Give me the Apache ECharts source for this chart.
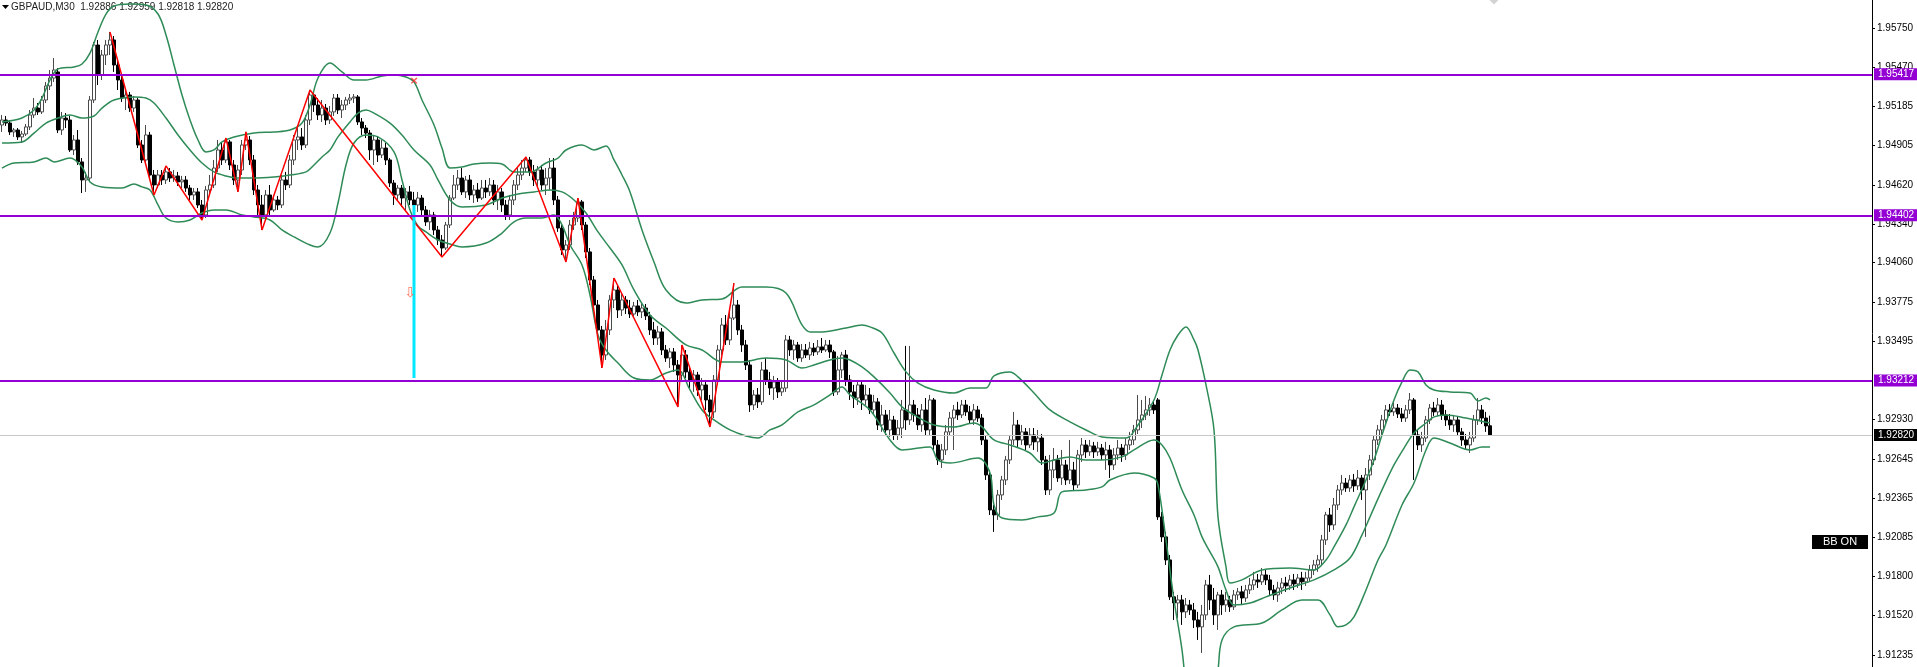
<!DOCTYPE html>
<html>
<head>
<meta charset="utf-8">
<script src="https://cdn.jsdelivr.net/npm/echarts@6/dist/echarts.min.js"></script>
<style>
html, body { margin: 0; padding: 0; background: #fff; }
#chart { width: 1917px; height: 667px; }
</style>
</head>
<body>
<div id="chart"></div>
<script>
// GBPAUD M30
const symbolName = 'GBPAUD,M30';
const slotCount = 468; // bar slots across the visible chart (incl. right shift)

// [open, close, low, high]
const candles = [
[1.95052,1.95088,1.95002,1.95124],[1.95088,1.95066,1.95045,1.95117],[1.95066,1.95002,1.94980,1.95088],[1.95002,1.95016,1.94966,1.95030],
[1.95016,1.94966,1.94944,1.95030],[1.94966,1.94987,1.94922,1.95009],[1.94987,1.95038,1.94973,1.95059],[1.95038,1.95124,1.95016,1.95160],
[1.95124,1.95174,1.95102,1.95246],[1.95174,1.95146,1.95124,1.95210],[1.95146,1.95232,1.95131,1.95261],[1.95232,1.95333,1.95210,1.95362],
[1.95333,1.95390,1.95304,1.95448],[1.95390,1.95448,1.95362,1.95534],[1.95434,1.95016,1.94994,1.95462],[1.95016,1.95102,1.94980,1.95146],
[1.95102,1.95088,1.95030,1.95138],[1.95088,1.94872,1.94858,1.95117],[1.94872,1.94944,1.94836,1.94980],[1.94944,1.94786,1.94764,1.95016],
[1.94786,1.94656,1.94562,1.94814],[1.94656,1.94670,1.94570,1.94714],[1.94670,1.95232,1.94642,1.95261],[1.95232,1.95628,1.95210,1.95650],
[1.95628,1.95412,1.95340,1.95664],[1.95412,1.95556,1.95376,1.95592],[1.95556,1.95628,1.95484,1.95664],[1.95628,1.95664,1.95556,1.95722],
[1.95664,1.95484,1.95434,1.95693],[1.95484,1.95376,1.95304,1.95520],[1.95376,1.95246,1.95218,1.95405],[1.95246,1.95268,1.95160,1.95304],
[1.95268,1.95174,1.95146,1.95290],[1.95174,1.95232,1.95146,1.95261],[1.95232,1.94908,1.94886,1.95246],[1.94908,1.94800,1.94778,1.94944],
[1.94800,1.94980,1.94764,1.95052],[1.94980,1.94692,1.94656,1.95002],[1.94692,1.94620,1.94548,1.94728],[1.94620,1.94692,1.94598,1.94728],
[1.94692,1.94656,1.94620,1.94728],[1.94656,1.94714,1.94627,1.94757],[1.94714,1.94670,1.94642,1.94742],[1.94670,1.94685,1.94642,1.94728],
[1.94685,1.94642,1.94613,1.94714],[1.94642,1.94656,1.94598,1.94685],[1.94656,1.94598,1.94570,1.94685],[1.94598,1.94548,1.94512,1.94620],
[1.94548,1.94570,1.94512,1.94598],[1.94570,1.94476,1.94454,1.94598],[1.94476,1.94404,1.94368,1.94512],[1.94404,1.94584,1.94382,1.94613],
[1.94584,1.94620,1.94548,1.94692],[1.94620,1.94742,1.94598,1.94800],[1.94742,1.94872,1.94714,1.94944],[1.94872,1.94800,1.94764,1.94930],
[1.94800,1.94930,1.94778,1.94958],[1.94930,1.94764,1.94728,1.94944],[1.94764,1.94656,1.94620,1.94800],[1.94656,1.94728,1.94570,1.94764],
[1.94728,1.94908,1.94692,1.94944],[1.94908,1.94944,1.94872,1.95002],[1.94944,1.94800,1.94764,1.94973],[1.94800,1.94584,1.94548,1.94836],
[1.94584,1.94476,1.94404,1.94620],[1.94476,1.94404,1.94296,1.94548],[1.94404,1.94548,1.94368,1.94584],[1.94548,1.94440,1.94404,1.94620],
[1.94440,1.94512,1.94426,1.94548],[1.94512,1.94476,1.94440,1.94541],[1.94476,1.94656,1.94454,1.94692],[1.94656,1.94620,1.94584,1.94714],
[1.94620,1.94800,1.94598,1.94836],[1.94800,1.94944,1.94764,1.94980],[1.94944,1.94966,1.94872,1.95052],[1.94966,1.94908,1.94872,1.95030],
[1.94908,1.95088,1.94886,1.95124],[1.95088,1.95268,1.95052,1.95304],[1.95268,1.95196,1.95146,1.95290],[1.95196,1.95124,1.95088,1.95246],
[1.95124,1.95174,1.95074,1.95232],[1.95174,1.95088,1.95052,1.95203],[1.95088,1.95146,1.95059,1.95189],[1.95146,1.95246,1.95117,1.95275],
[1.95246,1.95160,1.95131,1.95275],[1.95160,1.95196,1.95102,1.95232],[1.95196,1.95232,1.95160,1.95254],[1.95232,1.95246,1.95203,1.95275],
[1.95246,1.95254,1.95210,1.95275],[1.95254,1.95074,1.95052,1.95268],[1.95074,1.95030,1.94980,1.95102],[1.95030,1.94994,1.94958,1.95052],
[1.94994,1.94872,1.94800,1.95016],[1.94872,1.94944,1.94764,1.94980],[1.94944,1.94836,1.94786,1.94966],[1.94836,1.94886,1.94814,1.94944],
[1.94886,1.94800,1.94764,1.94922],[1.94800,1.94634,1.94606,1.94814],[1.94634,1.94548,1.94476,1.94656],[1.94548,1.94598,1.94512,1.94620],
[1.94598,1.94526,1.94462,1.94620],[1.94526,1.94570,1.94440,1.94598],[1.94570,1.94512,1.94476,1.94613],[1.94512,1.94476,1.94404,1.94570],
[1.94476,1.94526,1.94426,1.94570],[1.94526,1.94440,1.94404,1.94548],[1.94440,1.94354,1.94325,1.94469],[1.94354,1.94404,1.94296,1.94440],
[1.94404,1.94296,1.94260,1.94426],[1.94296,1.94224,1.94188,1.94325],[1.94224,1.94166,1.94102,1.94260],[1.94166,1.94332,1.94152,1.94354],
[1.94332,1.94526,1.94310,1.94548],[1.94526,1.94620,1.94512,1.94692],[1.94620,1.94670,1.94584,1.94728],[1.94670,1.94570,1.94548,1.94742],
[1.94570,1.94656,1.94526,1.94685],[1.94656,1.94548,1.94512,1.94692],[1.94548,1.94584,1.94490,1.94620],[1.94584,1.94526,1.94498,1.94634],
[1.94526,1.94598,1.94512,1.94656],[1.94598,1.94570,1.94526,1.94656],[1.94570,1.94620,1.94541,1.94670],[1.94620,1.94512,1.94476,1.94656],
[1.94512,1.94570,1.94440,1.94620],[1.94570,1.94476,1.94426,1.94598],[1.94476,1.94404,1.94368,1.94512],[1.94404,1.94512,1.94368,1.94548],
[1.94512,1.94620,1.94476,1.94656],[1.94620,1.94692,1.94584,1.94742],[1.94692,1.94742,1.94656,1.94800],[1.94742,1.94800,1.94714,1.94822],
[1.94800,1.94714,1.94685,1.94822],[1.94714,1.94656,1.94613,1.94764],[1.94656,1.94728,1.94598,1.94757],[1.94728,1.94620,1.94584,1.94764],
[1.94620,1.94670,1.94548,1.94742],[1.94670,1.94742,1.94584,1.94814],[1.94742,1.94512,1.94476,1.94814],[1.94512,1.94310,1.94282,1.94541],
[1.94310,1.94152,1.94116,1.94339],[1.94152,1.94188,1.94066,1.94224],[1.94188,1.94332,1.94152,1.94368],[1.94332,1.94382,1.94296,1.94426],
[1.94382,1.94498,1.94354,1.94526],[1.94498,1.94332,1.94296,1.94512],[1.94332,1.94138,1.94094,1.94354],[1.94138,1.93936,1.93900,1.94166],
[1.93936,1.93756,1.93720,1.93965],[1.93756,1.93576,1.93540,1.93792],[1.93576,1.93396,1.93302,1.93605],[1.93396,1.93576,1.93360,1.93648],
[1.93576,1.93792,1.93540,1.93828],[1.93792,1.93864,1.93734,1.93950],[1.93864,1.93720,1.93662,1.93893],[1.93720,1.93792,1.93677,1.93835],
[1.93792,1.93734,1.93691,1.93821],[1.93734,1.93691,1.93662,1.93792],[1.93691,1.93749,1.93662,1.93778],[1.93749,1.93706,1.93677,1.93792],
[1.93706,1.93734,1.93662,1.93770],[1.93734,1.93677,1.93648,1.93763],[1.93677,1.93576,1.93540,1.93706],[1.93576,1.93518,1.93468,1.93634],
[1.93518,1.93562,1.93468,1.93605],[1.93562,1.93432,1.93396,1.93590],[1.93432,1.93374,1.93346,1.93468],[1.93374,1.93418,1.93302,1.93446],
[1.93418,1.93324,1.93274,1.93446],[1.93324,1.93252,1.93022,1.93360],[1.93252,1.93396,1.93216,1.93468],[1.93396,1.93274,1.93230,1.93432],
[1.93274,1.93216,1.93158,1.93317],[1.93216,1.93252,1.93130,1.93288],[1.93252,1.93144,1.93101,1.93274],[1.93144,1.93180,1.93072,1.93230],
[1.93180,1.93072,1.93000,1.93216],[1.93072,1.92986,1.92878,1.93108],[1.92986,1.93216,1.92942,1.93252],[1.93216,1.93432,1.93180,1.93468],
[1.93432,1.93612,1.93396,1.93662],[1.93612,1.93504,1.93468,1.93684],[1.93504,1.93662,1.93468,1.93720],[1.93662,1.93756,1.93648,1.93914],
[1.93756,1.93576,1.93540,1.93792],[1.93576,1.93468,1.93418,1.93612],[1.93468,1.93324,1.93288,1.93504],[1.93324,1.93036,1.92986,1.93360],
[1.93036,1.93108,1.93000,1.93144],[1.93108,1.93058,1.93014,1.93158],[1.93058,1.93288,1.93036,1.93346],[1.93288,1.93216,1.93180,1.93374],
[1.93216,1.93158,1.93108,1.93274],[1.93158,1.93202,1.93072,1.93245],[1.93202,1.93130,1.93086,1.93230],[1.93130,1.93158,1.93101,1.93216],
[1.93158,1.93504,1.93130,1.93540],[1.93504,1.93432,1.93389,1.93533],[1.93432,1.93468,1.93360,1.93504],[1.93468,1.93374,1.93346,1.93490],
[1.93374,1.93432,1.93346,1.93475],[1.93432,1.93396,1.93374,1.93475],[1.93396,1.93446,1.93360,1.93490],[1.93446,1.93418,1.93389,1.93482],
[1.93418,1.93454,1.93396,1.93504],[1.93454,1.93432,1.93410,1.93518],[1.93432,1.93468,1.93418,1.93504],[1.93468,1.93418,1.93374,1.93504],
[1.93418,1.93130,1.93101,1.93432],[1.93130,1.93288,1.93108,1.93389],[1.93288,1.93396,1.93230,1.93418],[1.93396,1.93216,1.93173,1.93432],
[1.93216,1.93130,1.93072,1.93252],[1.93130,1.93086,1.93014,1.93180],[1.93086,1.93180,1.93036,1.93216],[1.93180,1.93072,1.93000,1.93202],
[1.93072,1.93108,1.93036,1.93180],[1.93108,1.93000,1.92971,1.93158],[1.93000,1.93058,1.92964,1.93108],[1.93058,1.92892,1.92856,1.93086],
[1.92892,1.92964,1.92842,1.93036],[1.92964,1.92856,1.92820,1.93000],[1.92856,1.92928,1.92806,1.93000],[1.92928,1.92820,1.92784,1.92957],
[1.92820,1.92870,1.92784,1.92928],[1.92870,1.93000,1.92798,1.93072],[1.93000,1.92928,1.92856,1.93461],[1.92928,1.93036,1.92892,1.93461],
[1.93036,1.92964,1.92914,1.93072],[1.92964,1.92892,1.92856,1.93014],[1.92892,1.93000,1.92842,1.93043],[1.93000,1.92856,1.92820,1.93086],
[1.92856,1.93072,1.92820,1.93108],[1.93072,1.92748,1.92712,1.93086],[1.92748,1.92640,1.92604,1.92784],[1.92640,1.92712,1.92582,1.92755],
[1.92712,1.92842,1.92676,1.92892],[1.92842,1.92942,1.92813,1.92986],[1.92942,1.93000,1.92712,1.93036],[1.93000,1.92964,1.92928,1.93058],
[1.92964,1.93036,1.92942,1.93072],[1.93036,1.92986,1.92957,1.93072],[1.92986,1.92928,1.92899,1.93029],[1.92928,1.93000,1.92892,1.93043],
[1.93000,1.92942,1.92914,1.93029],[1.92942,1.92784,1.92748,1.92971],[1.92784,1.92532,1.92496,1.92813],[1.92532,1.92280,1.92244,1.92568],
[1.92280,1.92244,1.92122,1.92316],[1.92244,1.92388,1.92208,1.92424],[1.92388,1.92496,1.92352,1.92525],[1.92496,1.92640,1.92460,1.92669],
[1.92640,1.92784,1.92611,1.92813],[1.92784,1.92892,1.92748,1.92986],[1.92892,1.92784,1.92726,1.92928],[1.92784,1.92842,1.92748,1.92892],
[1.92842,1.92748,1.92712,1.92870],[1.92748,1.92820,1.92726,1.92870],[1.92820,1.92770,1.92712,1.92870],[1.92770,1.92798,1.92698,1.92856],
[1.92798,1.92640,1.92604,1.92827],[1.92640,1.92424,1.92388,1.92669],[1.92424,1.92568,1.92388,1.92676],[1.92568,1.92640,1.92510,1.92726],
[1.92640,1.92510,1.92482,1.92676],[1.92510,1.92604,1.92460,1.92712],[1.92604,1.92496,1.92460,1.92640],[1.92496,1.92568,1.92467,1.92784],
[1.92568,1.92460,1.92424,1.92626],[1.92460,1.92676,1.92438,1.92712],[1.92676,1.92748,1.92626,1.92798],[1.92748,1.92698,1.92654,1.92784],
[1.92698,1.92741,1.92669,1.92784],[1.92741,1.92698,1.92654,1.92770],[1.92698,1.92726,1.92669,1.92770],[1.92726,1.92676,1.92640,1.92755],
[1.92676,1.92712,1.92568,1.92770],[1.92712,1.92604,1.92510,1.92748],[1.92604,1.92676,1.92568,1.92726],[1.92676,1.92726,1.92640,1.92784],
[1.92726,1.92676,1.92626,1.92755],[1.92676,1.92748,1.92640,1.92798],[1.92748,1.92784,1.92712,1.92842],[1.92784,1.92856,1.92748,1.92892],
[1.92856,1.92928,1.92827,1.93108],[1.92928,1.92964,1.92870,1.93072],[1.92964,1.93000,1.92928,1.93101],[1.93000,1.93036,1.92957,1.93086],
[1.93036,1.93000,1.92971,1.93072],[1.93072,1.92230,1.92208,1.93086],[1.92230,1.92086,1.92050,1.92266],[1.92086,1.91920,1.91884,1.92122],
[1.91920,1.91654,1.91632,1.91956],[1.91654,1.91610,1.91488,1.91690],[1.91610,1.91632,1.91502,1.91668],[1.91632,1.91546,1.91452,1.91668],
[1.91546,1.91596,1.91502,1.91646],[1.91596,1.91560,1.91524,1.91632],[1.91560,1.91488,1.91430,1.91610],[1.91488,1.91438,1.91344,1.91546],
[1.91438,1.91524,1.91250,1.91596],[1.91524,1.91740,1.91488,1.91776],[1.91740,1.91632,1.91560,1.91812],[1.91632,1.91524,1.91452,1.91718],
[1.91524,1.91668,1.91416,1.91690],[1.91668,1.91596,1.91524,1.91704],[1.91596,1.91632,1.91546,1.91690],[1.91632,1.91582,1.91546,1.91661],
[1.91582,1.91668,1.91560,1.91704],[1.91668,1.91690,1.91632,1.91718],[1.91690,1.91646,1.91603,1.91733],[1.91646,1.91704,1.91618,1.91740],
[1.91704,1.91740,1.91675,1.91790],[1.91740,1.91776,1.91704,1.91834],[1.91776,1.91762,1.91718,1.91819],[1.91762,1.91812,1.91740,1.91862],
[1.91812,1.91776,1.91740,1.91848],[1.91776,1.91704,1.91668,1.91812],[1.91704,1.91668,1.91632,1.91740],[1.91668,1.91718,1.91618,1.91762],
[1.91718,1.91754,1.91675,1.91790],[1.91754,1.91733,1.91690,1.91798],[1.91733,1.91776,1.91704,1.91812],[1.91776,1.91747,1.91704,1.91819],
[1.91747,1.91790,1.91718,1.91819],[1.91790,1.91762,1.91704,1.91834],[1.91762,1.91790,1.91733,1.91834],[1.91790,1.91848,1.91762,1.91884],
[1.91848,1.91884,1.91812,1.91920],[1.91884,1.91920,1.91834,1.91956],[1.91920,1.92064,1.91884,1.92100],[1.92064,1.92244,1.92028,1.92266],
[1.92244,1.92172,1.92122,1.92294],[1.92172,1.92316,1.92136,1.92366],[1.92316,1.92424,1.92280,1.92460],[1.92424,1.92474,1.92388,1.92532],
[1.92474,1.92438,1.92410,1.92510],[1.92438,1.92496,1.92410,1.92532],[1.92496,1.92453,1.92410,1.92539],[1.92453,1.92510,1.92424,1.92568],
[1.92510,1.92424,1.92352,1.92532],[1.92424,1.92532,1.92086,1.92582],[1.92532,1.92640,1.92496,1.92676],[1.92640,1.92784,1.92604,1.92813],
[1.92784,1.92856,1.92748,1.92892],[1.92856,1.92928,1.92820,1.92964],[1.92928,1.93000,1.92899,1.93036],[1.93000,1.92986,1.92957,1.93043],
[1.92986,1.93014,1.92957,1.93058],[1.93014,1.92971,1.92942,1.93043],[1.92971,1.92942,1.92914,1.93014],[1.92942,1.93000,1.92914,1.93036],
[1.93000,1.93072,1.92971,1.93122],[1.93072,1.92820,1.92496,1.93086],[1.92820,1.92748,1.92712,1.92856],[1.92748,1.92798,1.92698,1.92842],
[1.92798,1.92928,1.92770,1.92957],[1.92928,1.93014,1.92899,1.93043],[1.93014,1.92986,1.92957,1.93058],[1.92986,1.93036,1.92957,1.93086],
[1.93036,1.92964,1.92928,1.93072],[1.92964,1.92928,1.92885,1.93000],[1.92928,1.92892,1.92856,1.92971],[1.92892,1.92928,1.92842,1.92964],
[1.92928,1.92842,1.92813,1.92957],[1.92842,1.92784,1.92741,1.92870],[1.92784,1.92748,1.92712,1.92827],[1.92748,1.92798,1.92690,1.92842],
[1.92798,1.92928,1.92770,1.92964],[1.92928,1.93000,1.92892,1.93086],[1.93000,1.92942,1.92899,1.93036],[1.92942,1.92885,1.92842,1.92986],
[1.92886,1.92820,1.92818,1.92959]
];

// Bollinger bands, [bar index, price]
const bbUpper = [[0,1.95074],[5,1.95102],[8,1.95160],[10,1.95246],[12,1.95376],[14,1.95455],[18,1.95470],[20,1.95491],[22,1.95570],[24,1.95722],[26,1.95851],[28,1.95909],[32,1.95923],[36,1.95916],[39,1.95851],[41,1.95700],[43,1.95484],[45,1.95268],[47,1.95088],[49,1.94944],[51,1.94858],[53,1.94872],[55,1.94930],[58,1.94966],[63,1.94994],[68,1.95002],[72,1.95016],[75,1.95066],[77,1.95196],[79,1.95390],[82,1.95498],[85,1.95434],[88,1.95376],[91,1.95376],[95,1.95405],[98,1.95412],[101,1.95398],[103,1.95362],[105,1.95232],[108,1.95052],[110,1.94886],[112,1.94742],[115,1.94750],[118,1.94771],[122,1.94778],[125,1.94771],[128,1.94714],[132,1.94714],[136,1.94778],[139,1.94814],[141,1.94872],[145,1.94908],[148,1.94872],[151,1.94901],[153,1.94800],[155,1.94692],[157,1.94570],[160,1.94296],[163,1.94066],[166,1.93864],[171,1.93770],[175,1.93792],[180,1.93799],[185,1.93886],[191,1.93886],[196,1.93842],[200,1.93612],[202,1.93562],[205,1.93562],[211,1.93590],[215,1.93612],[217,1.93598],[220,1.93554],[223,1.93410],[226,1.93274],[229,1.93194],[233,1.93144],[238,1.93122],[242,1.93158],[246,1.93158],[248,1.93245],[252,1.93274],[254,1.93238],[258,1.93122],[262,1.93000],[267,1.92914],[271,1.92856],[275,1.92806],[281,1.92798],[284,1.92892],[288,1.93072],[290,1.93252],[292,1.93432],[294,1.93540],[296,1.93598],[298,1.93504],[299,1.93432],[301,1.93180],[303,1.92856],[304,1.92230],[306,1.91870],[307,1.91754],[310,1.91776],[315,1.91848],[322,1.91862],[328,1.91848],[331,1.91920],[333,1.92014],[336,1.92172],[338,1.92302],[341,1.92496],[343,1.92640],[345,1.92820],[348,1.93072],[350,1.93202],[352,1.93288],[354,1.93274],[356,1.93180],[358,1.93144],[362,1.93130],[367,1.93122],[369,1.93065],[371,1.93086],[372,1.93072]];
const bbMiddle = [[0,1.94922],[5,1.94930],[8,1.94994],[11,1.95066],[14,1.95102],[17,1.95124],[20,1.95102],[23,1.95117],[25,1.95174],[28,1.95232],[33,1.95254],[36,1.95246],[38,1.95210],[41,1.95102],[44,1.94980],[47,1.94872],[50,1.94778],[53,1.94714],[56,1.94685],[59,1.94670],[63,1.94670],[68,1.94678],[72,1.94692],[76,1.94714],[78,1.94764],[80,1.94822],[82,1.94872],[84,1.94966],[87,1.95074],[89,1.95138],[91,1.95160],[93,1.95138],[97,1.95066],[100,1.94980],[103,1.94872],[107,1.94764],[109,1.94656],[112,1.94512],[115,1.94462],[121,1.94476],[125,1.94526],[129,1.94555],[133,1.94570],[137,1.94584],[140,1.94570],[143,1.94512],[146,1.94418],[149,1.94282],[152,1.94166],[155,1.94044],[158,1.93864],[162,1.93684],[166,1.93590],[171,1.93468],[175,1.93432],[180,1.93346],[185,1.93346],[191,1.93374],[196,1.93360],[200,1.93302],[203,1.93324],[207,1.93360],[210,1.93374],[212,1.93360],[215,1.93310],[218,1.93238],[222,1.93122],[225,1.93022],[228,1.92964],[233,1.92892],[238,1.92878],[243,1.92906],[245,1.92878],[248,1.92784],[252,1.92748],[257,1.92690],[260,1.92618],[263,1.92640],[267,1.92662],[271,1.92640],[275,1.92640],[280,1.92662],[283,1.92712],[288,1.92784],[290,1.92748],[292,1.92654],[295,1.92424],[298,1.92244],[300,1.92086],[302,1.91978],[304,1.91870],[306,1.91704],[308,1.91596],[312,1.91610],[316,1.91654],[322,1.91718],[328,1.91776],[333,1.91848],[337,1.91934],[340,1.92100],[342,1.92230],[345,1.92424],[348,1.92604],[351,1.92748],[353,1.92834],[356,1.92906],[358,1.92950],[361,1.92964],[366,1.92942],[372,1.92906]];
const bbLower = [[0,1.94742],[3,1.94778],[8,1.94786],[11,1.94814],[13,1.94786],[17,1.94814],[20,1.94750],[22,1.94642],[25,1.94606],[30,1.94598],[33,1.94627],[35,1.94606],[37,1.94584],[39,1.94476],[41,1.94382],[44,1.94354],[47,1.94368],[50,1.94418],[53,1.94440],[56,1.94440],[60,1.94404],[63,1.94390],[67,1.94368],[70,1.94296],[73,1.94246],[77,1.94188],[79,1.94174],[82,1.94274],[84,1.94490],[86,1.94764],[88,1.94922],[91,1.94980],[94,1.94966],[98,1.94858],[100,1.94656],[102,1.94440],[104,1.94325],[106,1.94282],[109,1.94224],[112,1.94195],[115,1.94174],[121,1.94202],[125,1.94274],[128,1.94354],[131,1.94382],[135,1.94382],[138,1.94404],[140,1.94332],[142,1.94188],[145,1.94044],[147,1.93828],[149,1.93540],[151,1.93432],[154,1.93338],[158,1.93230],[162,1.93216],[166,1.93266],[169,1.93288],[172,1.93144],[175,1.93000],[178,1.92928],[182,1.92856],[186,1.92813],[189,1.92798],[192,1.92856],[195,1.92892],[199,1.92986],[203,1.93036],[207,1.93108],[210,1.93166],[212,1.93108],[217,1.93000],[222,1.92784],[225,1.92712],[232,1.92734],[234,1.92640],[237,1.92618],[244,1.92654],[247,1.92546],[248,1.92316],[250,1.92222],[255,1.92208],[259,1.92230],[263,1.92258],[265,1.92410],[271,1.92424],[275,1.92446],[277,1.92496],[283,1.92546],[288,1.92510],[289,1.92460],[291,1.92064],[293,1.91632],[295,1.91272],[296,1.90996],[298,1.90552],[300,1.90480],[302,1.90768],[304,1.91128],[305,1.91344],[308,1.91438],[315,1.91466],[320,1.91560],[325,1.91632],[329,1.91632],[332,1.91524],[334,1.91438],[336,1.91452],[338,1.91510],[341,1.91704],[344,1.91920],[346,1.92028],[350,1.92316],[353,1.92474],[356,1.92712],[358,1.92798],[362,1.92762],[367,1.92712],[370,1.92734],[372,1.92734]];

// ZigZag pivots [bar index, price]
const zigzag = [[27,1.95722],[38,1.94548],[41,1.94757],[50,1.94368],[56,1.94958],[59,1.94570],[61,1.95002],[65,1.94296],[77,1.95304],[110,1.94102],[131,1.94822],[141,1.94066],[144,1.94526],[150,1.93302],[153,1.93950],[169,1.93022],[170,1.93468],[177,1.92878],[183,1.93914]];

const levels = [1.95417, 1.94402, 1.93212];
const lastPrice = 1.92820;
const yTicks = [1.95750,1.95470,1.95185,1.94905,1.94620,1.94340,1.94060,1.93775,1.93495,1.92930,1.92645,1.92365,1.92085,1.91800,1.91520,1.91235];
const cyanBar = [[103,1.94476],[103,1.93230]];
const crossMark = [[103,1.95370]];
const arrowMark = [[102,1.93842]];
const topMarker = [[373,1.95952]];

const slots = Array.from({ length: slotCount }, (_, i) => i);
const last = candles[candles.length - 1];
const headerText = symbolName + '  ' + [last[0], last[3], last[2], last[1]].map(v => v.toFixed(5)).join(' ');

const chart = echarts.init(document.getElementById('chart'));

const bandLine = (name, data) => ({
    name: name,
    type: 'line',
    data: data,
    showSymbol: false,
    smooth: 0.35,
    z: 3,
    clip: true,
    lineStyle: { color: '#2e8b57', width: 1.5 }
});

const levelLabel = (bg, v) => ({
    position: 'end', distance: 2, color: '#fff', backgroundColor: bg,
    padding: [1, 6, 1, 4], fontFamily: 'Liberation Sans', fontSize: 10,
    formatter: () => v.toFixed(5)
});

const option = {
    animation: false,
    backgroundColor: '#ffffff',
    grid: { left: 0, right: 45, top: 0, bottom: 0, outerBoundsMode: 'none' },
    xAxis: {
        type: 'category',
        data: slots,
        boundaryGap: true,
        show: false
    },
    yAxis: {
        type: 'value',
        position: 'right',
        min: 1.91149,
        max: 1.95952,
        splitLine: { show: false },
        axisLine: { show: true, lineStyle: { color: '#000', width: 1 } },
        axisTick: { show: true, length: 3, customValues: yTicks, lineStyle: { color: '#000' } },
        axisLabel: {
            customValues: yTicks,
            margin: 5,
            color: '#000',
            fontFamily: 'Liberation Sans',
            fontSize: 10,
            formatter: (v) => v.toFixed(5)
        }
    },
    graphic: [
        { type: 'polygon', shape: { points: [[2, 5], [9, 5], [5.5, 9]] }, style: { fill: '#000' } },
        { type: 'text', left: 11, top: 2, style: { text: headerText, fill: '#222', font: '10px "Liberation Sans"' } },
        { type: 'rect', shape: { x: 1812, y: 535, width: 56, height: 14 }, style: { fill: '#000' } },
        { type: 'text', x: 1840, y: 542, style: { text: 'BB ON', fill: '#fff', font: '11px "Liberation Sans"', align: 'center', verticalAlign: 'middle' } }
    ],
    series: [
        {
            name: symbolName,
            type: 'candlestick',
            data: candles,
            barWidth: 3,
            z: 2,
            itemStyle: {
                color: '#ffffff',
                color0: '#000000',
                borderColor: '#4a4a4a',
                borderColor0: '#000000',
                borderWidth: 1
            }
        },
        bandLine('BB upper', bbUpper),
        bandLine('BB middle', bbMiddle),
        bandLine('BB lower', bbLower),
        {
            name: 'ZigZag',
            type: 'line',
            data: zigzag,
            showSymbol: false,
            z: 4,
            lineStyle: { color: '#ff0000', width: 1.5 },
            markLine: {
                silent: true,
                symbol: 'none',
                precision: 5,
                z: 10,
                data: [
                    {
                        yAxis: lastPrice,
                        lineStyle: { color: '#c8c8c8', width: 1, type: 'solid' },
                        label: levelLabel('#000', lastPrice)
                    },
                    ...levels.map(v => ({
                        yAxis: v,
                        lineStyle: { color: '#9400d3', width: 2, type: 'solid' },
                        label: levelLabel('#9400d3', v)
                    }))
                ]
            }
        },
        {
            name: 'signal',
            type: 'line',
            data: cyanBar,
            showSymbol: false,
            z: 4,
            lineStyle: { color: '#00e8ff', width: 3 }
        },
        {
            name: 'cross',
            type: 'scatter',
            data: crossMark,
            symbolSize: 1,
            itemStyle: { color: 'rgba(0,0,0,0)' },
            label: { show: true, position: 'inside', formatter: '×', color: '#ff2020', fontSize: 11, fontWeight: 'bold', fontFamily: 'DejaVu Sans' },
            z: 12
        },
        {
            name: 'arrow',
            type: 'scatter',
            data: arrowMark,
            symbolSize: 1,
            itemStyle: { color: 'rgba(0,0,0,0)' },
            label: { show: true, position: 'inside', formatter: '⇩', color: '#ff5030', fontSize: 14, fontFamily: 'DejaVu Sans' },
            z: 12
        },
        {
            name: 'marker',
            type: 'scatter',
            data: topMarker,
            symbol: 'diamond',
            symbolSize: 9,
            itemStyle: { color: '#c8c8c8' },
            z: 5
        }
    ]
};

chart.setOption(option);
</script>
</body>
</html>
